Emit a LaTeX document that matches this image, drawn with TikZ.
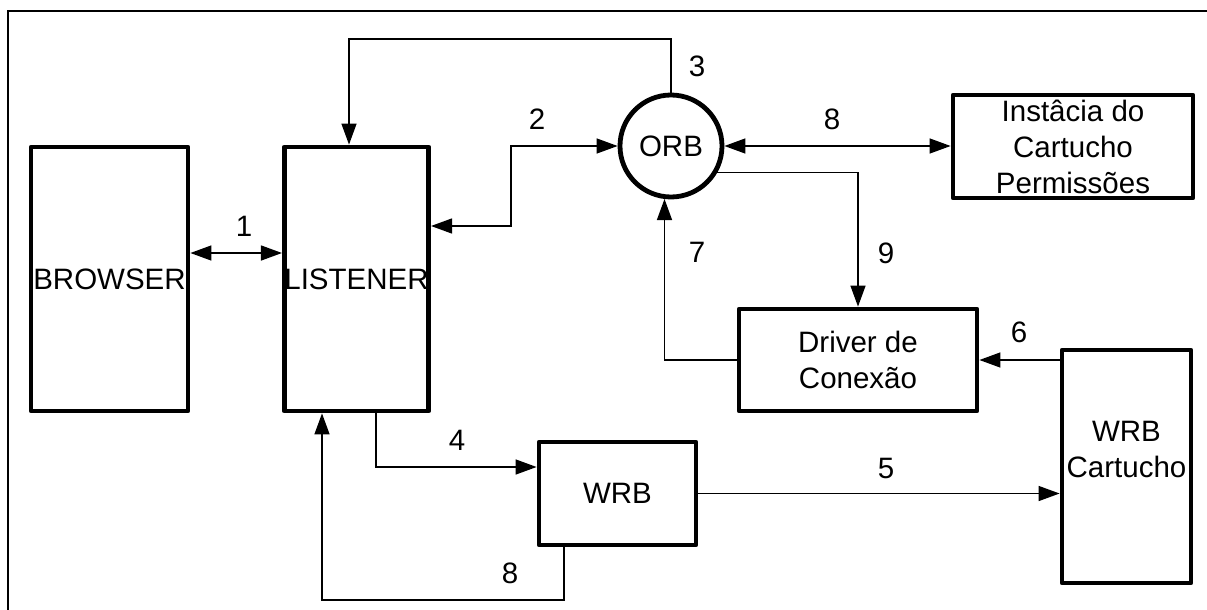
\documentclass[tikz,border=0pt]{standalone}
\usepackage{fontspec}
\setmainfont{Liberation Sans}
\usetikzlibrary{arrows.meta}
\begin{document}
\begin{tikzpicture}[x=1pt,y=-1pt,
  >={Triangle[length=21pt,width=15pt]},
  txt/.style={font=\fontsize{29.5}{36}\selectfont},
  box/.style={draw, rectangle, line width=4.8pt, line join=round, inner sep=0pt, align=center, txt},
  conn/.style={line width=1.4pt},
  num/.style={txt, inner sep=0pt}]
\useasboundingbox (0,0) rectangle (1207,610);
\draw[line width=1.6pt] (8,640) -- (8,11) -- (1240,11);

\node[box, minimum width=157pt, minimum height=264pt] (browser) at (109.5,279) {BROWSER};
\node[box, minimum width=143pt, minimum height=264pt] (listener) at (356.5,279) {LISTENER};
\node[draw, circle, line width=4.8pt, minimum size=102pt, inner sep=0pt, txt] (orb) at (671,146) {ORB};
\node[box, minimum width=240pt, minimum height=103pt] (inst) at (1073,146.5) {Instâcia do\\Cartucho\\Permissões};
\node[box, minimum width=238pt, minimum height=102pt] (drv) at (858,360) {Driver de\\Conexão};
\node[box, minimum width=129pt, minimum height=233pt] (wrbc) at (1126.5,466.5) {};
\node[txt, align=center, inner sep=0pt] (wrbctext) at (1126.5,449) {WRB\\Cartucho};
\node[box, minimum width=157pt, minimum height=103pt] (wrb) at (617.5,493.5) {WRB};

% connectors
\draw[conn,<->] (browser.east |- 0,253) -- (listener.west |- 0,253);
\coordinate (k3) at (349,39);
\draw[conn,->] (orb.north) |- (k3) -- (k3 |- listener.north);
\coordinate (k2) at (511,226);
\draw[conn,<->] (listener.east |- k2) -- (k2) |- (orb.west);
\draw[conn,<->] (orb.east) -- (inst.west |- orb.east);
\draw[conn,->] (orb.-30) -| (drv.north);
\draw[conn,->] (drv.west) -| (orb.263);
\draw[conn,->] (wrbc.west |- drv.east) -- (drv.east);
\coordinate (k4) at (376,467);
\draw[conn,->] (listener.south -| k4) |- (wrb.west |- k4);
\draw[conn,->] (wrb.east) -- (wrbc.west |- wrb.east);
\coordinate (k8) at (322,600);
\draw[conn,->] (wrb.south -| 564,0) |- (k8) -- (listener.south -| k8);

% labels
\node[num] (n1) at (244,226) {1};
\node[num] (n2) at (537,119) {2};
\node[num] (n3) at (697,66) {3};
\node[num] (n4) at (457,440) {4};
\node[num] (n5) at (886,468) {5};
\node[num] (n6) at (1019,332) {6};
\node[num] (n7) at (697,252) {7};
\node[num] (n8a) at (832,119) {8};
\node[num] (n8b) at (510,573) {8};
\node[num] (n9) at (886,253) {9};
\end{tikzpicture}
\end{document}
